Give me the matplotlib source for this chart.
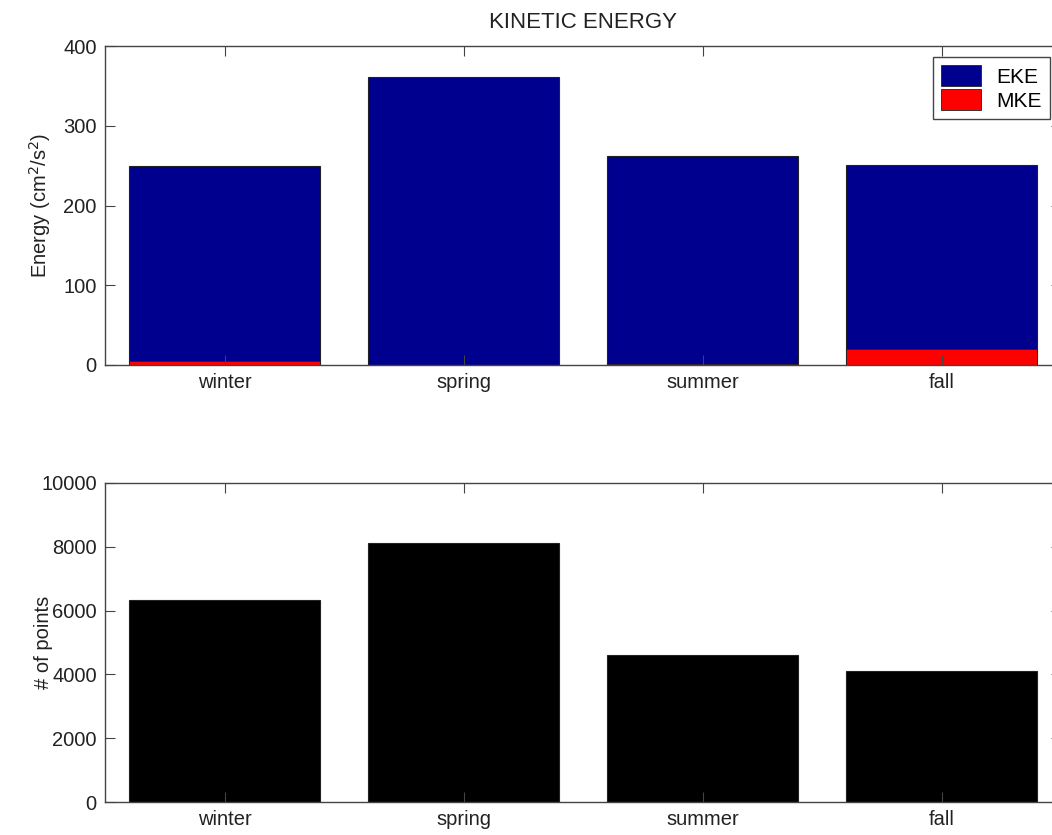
import matplotlib
matplotlib.use("Agg")
import matplotlib.pyplot as plt
from matplotlib.patches import Patch

seasons = ["winter", "spring", "summer", "fall"]
eke = [249, 361, 262, 251]
mke = [4.5, 0.5, 1.5, 20]
npoints = [6330, 8130, 4610, 4120]

plt.rcParams['font.family'] = ['Liberation Sans', 'DejaVu Sans']
FS = 14.5
navy = '#00008F'
spine_c = '#444444'

fig = plt.figure(figsize=(10.52, 8.35), dpi=100)
W, H = 1052.0, 835.0
ax1 = fig.add_axes([105/W, 1-365/H, 956/W, 319/H])
ax2 = fig.add_axes([105/W, 1-802/H, 956/W, 319/H])

x = list(range(1, len(seasons)+1))
ax1.bar(x, eke, width=0.8, color=navy, edgecolor='#222222', linewidth=0.8, label='EKE')
ax1.bar(x, mke, width=0.8, color='#FF0000', edgecolor='#222222', linewidth=0.6, label='MKE')
ax2.bar(x, npoints, width=0.8, color='black', edgecolor='#222222', linewidth=0.8)

for ax in (ax1, ax2):
    ax.set_xlim(0.5, 4.5)
    ax.set_xticks(x)
    ax.set_xticklabels(seasons)
    for s in ax.spines.values():
        s.set_color(spine_c)
        s.set_linewidth(1.0)
    ax.tick_params(direction='in', length=7, width=0.8, color=spine_c,
                   top=True, right=True, labelsize=FS, labelcolor='#222222', pad=6)

ax1.set_ylim(0, 400)
ax1.set_yticks([0, 100, 200, 300, 400])
ax2.set_ylim(0, 10000)
ax2.set_yticks([0, 2000, 4000, 6000, 8000, 10000])

ax1.set_ylabel('Energy (cm$^2$/s$^2$)', fontsize=FS, color='#222222')
ax2.set_ylabel('# of points', fontsize=FS, color='#222222')
ax1.yaxis.set_label_coords((53 - 105) / 956, 0.5)
ax2.yaxis.set_label_coords((53 - 105) / 956, 0.5)
ax1.set_title('KINETIC ENERGY', fontsize=16, color='#222222', pad=13)

handles = [Patch(facecolor=navy, edgecolor='#222222', linewidth=0.6),
           Patch(facecolor='#FF0000', edgecolor='#222222', linewidth=0.6)]
leg = ax1.legend(handles, ['EKE', 'MKE'], loc='upper right',
                 bbox_to_anchor=(1050/W, 1-57/H), bbox_transform=fig.transFigure,
                 fontsize=15, frameon=True, fancybox=False, framealpha=1,
                 edgecolor=spine_c, handlelength=1.9, handleheight=1.15,
                 handletextpad=0.75, labelspacing=0.12, borderpad=0.4,
                 borderaxespad=0)
leg.get_frame().set_linewidth(1.0)

fig.savefig('out.png', dpi=100)
